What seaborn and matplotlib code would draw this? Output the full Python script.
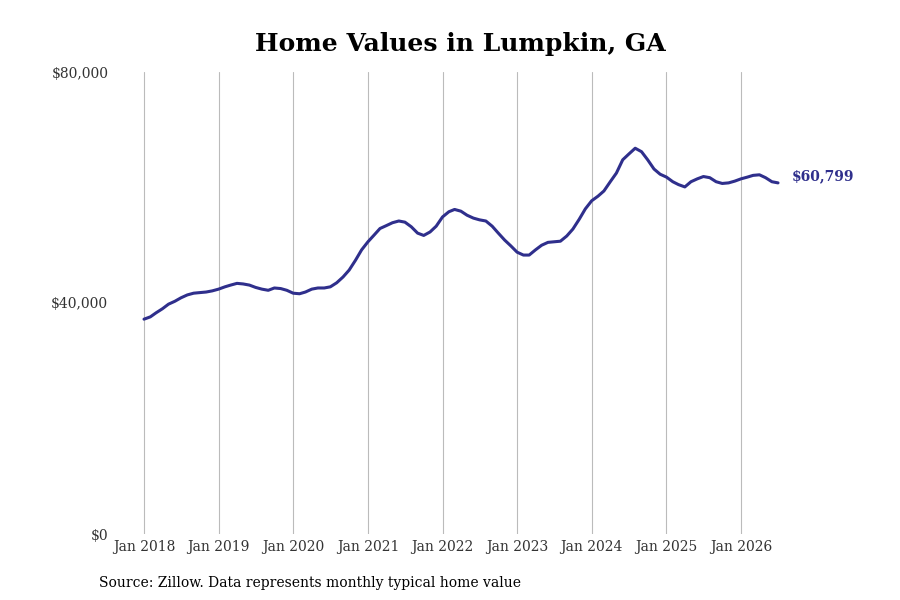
import matplotlib
matplotlib.use("Agg")
import matplotlib.pyplot as plt
from matplotlib.ticker import FuncFormatter
import seaborn as sns
import pandas as pd

# monthly typical home value, Jan 2018 .. Jul 2026
values = [
    37200, 37600, 38300, 39000, 39800, 40300, 40900, 41400, 41700, 41800, 41900, 42100,
    42400, 42800, 43100, 43400, 43300, 43100, 42700, 42400, 42200, 42600, 42500, 42200,
    41700, 41600, 41900, 42400, 42600, 42600, 42800, 43500, 44500, 45700, 47400, 49200,
    50600, 51800, 52900, 53400, 53900, 54200, 54000, 53200, 52100, 51700, 52300, 53300,
    54900, 55800, 56200, 55900, 55200, 54700, 54400, 54200, 53300, 52100, 50900, 49900,
    48800, 48300, 48300, 49200, 50000, 50500, 50600, 50700, 51600, 52800, 54500, 56300,
    57700, 58500, 59400, 61000, 62500, 64800, 65800, 66800, 66200, 64800, 63200, 62300,
    61800, 61000, 60500, 60100, 61000, 61500, 61900, 61700, 61000, 60700, 60800, 61100,
    61500, 61800, 62100, 62200, 61700, 61000, 60799,
]
dates = pd.date_range("2018-01-01", periods=len(values), freq="MS")
tick_years = list(range(2018, 2027))
y_ticks = [0, 40000, 80000]

line_color = "#2f2f8c"

df = pd.DataFrame({"date": dates, "value": values})

sns.set_theme(style="white")
plt.rcParams["font.family"] = ["DejaVu Serif"]

fig = plt.figure(figsize=(9, 6), dpi=100)
ax = fig.add_axes([0.128, 0.11, 0.83, 0.77])

sns.lineplot(data=df, x="date", y="value", ax=ax, color=line_color, linewidth=2.2)

ax.set_ylim(0, 80000)
ax.set_yticks(y_ticks)
ax.yaxis.set_major_formatter(FuncFormatter(lambda v, p: f"${v:,.0f}"))

ticks = [pd.Timestamp(f"{y}-01-01") for y in tick_years]
ax.set_xticks(ticks)
ax.set_xticklabels([f"Jan {y}" for y in tick_years])
ax.set_xlim(pd.Timestamp("2017-08-13"), pd.Timestamp("2027-08-17"))

ax.grid(axis="x", color="#bbbbbb", linewidth=0.8)
ax.grid(axis="y", visible=False)
for s in ax.spines.values():
    s.set_visible(False)
ax.tick_params(axis="both", length=0, labelsize=10, colors="#333333")
ax.tick_params(axis="y", pad=5)
ax.tick_params(axis="x", pad=4)
ax.set_xlabel("")
ax.set_ylabel("")

last = df.iloc[-1]
ax.annotate(f"${last['value']:,.0f}", xy=(last["date"], last["value"]),
            xytext=(10, 4.5), textcoords="offset points", va="center", ha="left",
            color=line_color, fontweight="bold", fontsize=10)

fig.suptitle("Home Values in Lumpkin, GA", x=0.512, y=0.946, fontsize=18,
             fontweight="bold", color="black")
fig.text(0.11, 0.022, "Source: Zillow. Data represents monthly typical home value",
         fontsize=10, color="black")

fig.savefig("out.png", dpi=100)
plt.close(fig)
